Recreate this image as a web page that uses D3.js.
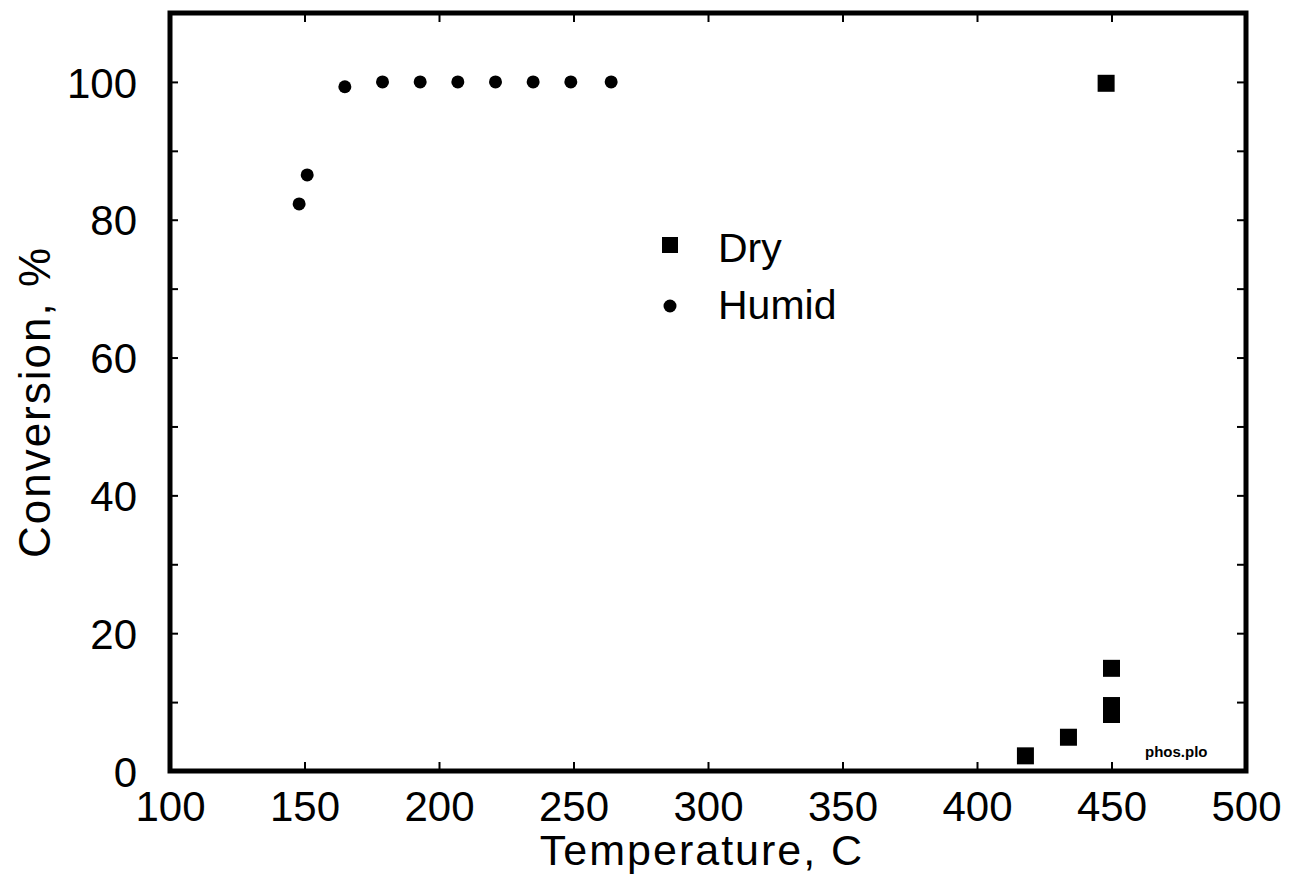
<!DOCTYPE html>
<html>
<head>
<meta charset="utf-8">
<script src="https://cdn.jsdelivr.net/npm/d3@7"></script>
<style>
  html, body { margin: 0; padding: 0; background: #fff; }
  svg { display: block; }
  text { font-family: "Liberation Sans", Arial, sans-serif; fill: #000; }
</style>
</head>
<body>
<svg id="chart" width="1294" height="890"></svg>
<script>
// ---- data ----
const humidTemp = [148, 151, 165, 179, 193, 207, 221, 235, 249, 264];
const humidConv = [82.3, 86.5, 99.3, 100, 100, 100, 100, 100, 100, 100];
const dryTemp = [418, 434, 448, 450, 450, 450];
const dryConv = [2.2, 4.9, 99.8, 14.9, 9.5, 8.2];
const xTicks = [100, 150, 200, 250, 300, 350, 400, 450, 500];
const yTicks = [0, 10, 20, 30, 40, 50, 60, 70, 80, 90, 100];
const yLabelTicks = [0, 20, 40, 60, 80, 100];
const legendLabels = ["Dry", "Humid"];

// ---- layout ----
const L = 170, R = 1246, T = 13, B = 771;
const svg = d3.select("#chart");
const x = d3.scaleLinear().domain([100, 500]).range([L, R]);
const y = d3.scaleLinear().domain([0, 110]).range([B, T]);

// axes
const gx = svg.append("g").attr("transform", `translate(0,${B})`)
  .call(d3.axisBottom(x).tickValues(xTicks).tickSize(-9).tickPadding(20).tickFormat(d3.format("d")));
const gxt = svg.append("g").attr("transform", `translate(0,${T})`)
  .call(d3.axisTop(x).tickValues(xTicks.slice(1, -1)).tickSize(-9).tickFormat(""));
const gy = svg.append("g").attr("transform", `translate(${L},0)`)
  .call(d3.axisLeft(y).tickValues(yTicks).tickSize(-8).tickPadding(33)
    .tickFormat(d => yLabelTicks.includes(d) ? d : ""));
const gyr = svg.append("g").attr("transform", `translate(${R},0)`)
  .call(d3.axisRight(y).tickValues(yTicks.slice(1)).tickSize(-9).tickFormat(""));

[gx, gxt, gy, gyr].forEach(g => {
  g.select(".domain").remove();
  g.selectAll(".tick line").attr("stroke", "#000").attr("stroke-width", 2);
  g.selectAll("text").style("font-size", "42px").attr("fill", "#000");
});
gy.selectAll(".tick text").attr("dy", "0.36em");
gx.selectAll(".tick").filter(d => d === 100 || d === 500).select("line").remove();

// frame
svg.append("rect")
  .attr("x", L).attr("y", T).attr("width", R - L).attr("height", B - T)
  .attr("fill", "none").attr("stroke", "#000").attr("stroke-width", 5);

// axis titles
svg.append("text").attr("x", 702).attr("y", 865).attr("text-anchor", "middle")
  .style("font-size", "43px").style("letter-spacing", "2px").text("Temperature, C");
svg.append("text").attr("transform", "translate(50,402) rotate(-90)").attr("text-anchor", "middle")
  .style("font-size", "44px").style("letter-spacing", "2px").text("Conversion, %");

// humid points
svg.append("g").selectAll("circle").data(humidTemp).join("circle")
  .attr("cx", (d) => x(d)).attr("cy", (d, i) => y(humidConv[i])).attr("r", 6.5).attr("fill", "#000");

// dry points
const sq = 17;
svg.append("g").selectAll("rect").data(dryTemp).join("rect")
  .attr("x", d => x(d) - sq / 2).attr("y", (d, i) => y(dryConv[i]) - sq / 2)
  .attr("width", sq).attr("height", sq).attr("fill", "#000");

// legend
const lg = svg.append("g");
lg.append("rect").attr("x", 662).attr("y", 237).attr("width", 16).attr("height", 16).attr("fill", "#000");
lg.append("circle").attr("cx", 670).attr("cy", 306).attr("r", 6.5).attr("fill", "#000");
lg.append("text").attr("x", 718).attr("y", 262).style("font-size", "41px").text(legendLabels[0]);
lg.append("text").attr("x", 718).attr("y", 319).style("font-size", "41px").text(legendLabels[1]);

// file tag
svg.append("text").attr("x", 1145).attr("y", 757).style("font-size", "15px").style("font-weight", "bold")
  .text("phos.plo");
</script>
</body>
</html>
